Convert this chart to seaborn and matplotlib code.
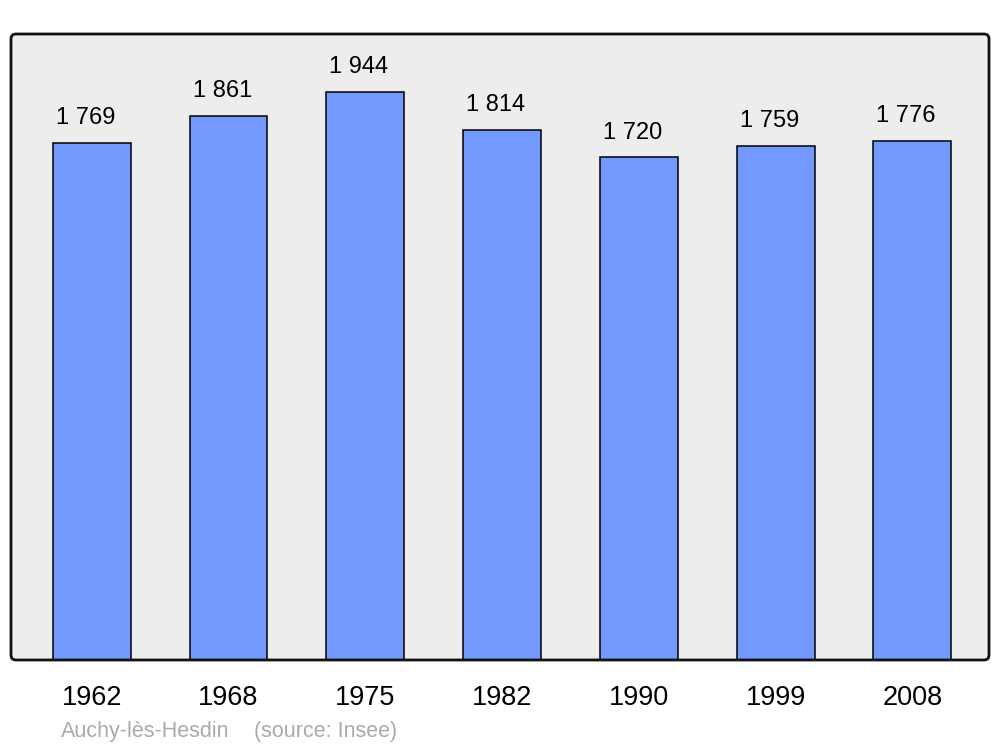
import matplotlib.pyplot as plt
import pandas as pd
import seaborn as sns
from matplotlib.patches import FancyBboxPatch

years = ["1962", "1968", "1975", "1982", "1990", "1999", "2008"]
population = [1769, 1861, 1944, 1814, 1720, 1759, 1776]
commune = "Auchy-lès-Hesdin"
source = "(source: Insee)"

df = pd.DataFrame({"year": years, "population": population})

sns.set_style("white")
plt.rcParams["font.family"] = ["Liberation Sans", "DejaVu Sans"]
plt.rcParams["text.color"] = "black"
plt.rcParams["xtick.color"] = "black"

fig = plt.figure(figsize=(10, 7.47), dpi=100)
ax = fig.add_axes([0.011, 87 / 747, 0.978, 626 / 747])
ax.patch.set_visible(False)

# rounded grey panel behind the plot (inch coordinates)
box = dict(boxstyle="round,pad=0,rounding_size=0.05", transform=fig.dpi_scale_trans)
fig.patches.append(FancyBboxPatch((0.11, 0.87), 9.78, 6.26, facecolor="#ededed",
                                  edgecolor="none", zorder=-1, **box))
ax.add_patch(FancyBboxPatch((0.11, 0.87), 9.78, 6.26, facecolor="none",
                            edgecolor="#111111", linewidth=2.0, zorder=5,
                            clip_on=False, **box))

sns.barplot(data=df, x="year", y="population", color="#7399ff", saturation=1,
            width=0.57, edgecolor="black", linewidth=1.1, ax=ax)

for i, v in enumerate(population):
    ax.annotate(f"{v:,}".replace(",", " "), (i, v), xytext=(-4.5, 13.5),
                textcoords="offset points", ha="center", va="baseline",
                fontsize=17, color="black")

ax.set_xlim(-0.59, 6.56)
ax.set_ylim(0, 2142)
ax.set_yticks([])
ax.set_xlabel("")
ax.set_ylabel("")
ax.tick_params(axis="x", length=0, pad=18, labelsize=19.5, labelcolor="black")
for s in ax.spines.values():
    s.set_visible(False)

fig.text(0.061, 10 / 747, commune, color="#aaaaaa", fontsize=15.5, va="baseline")
fig.text(0.254, 10 / 747, source, color="#aaaaaa", fontsize=15.5, va="baseline")

fig.savefig("out.png", dpi=100)
